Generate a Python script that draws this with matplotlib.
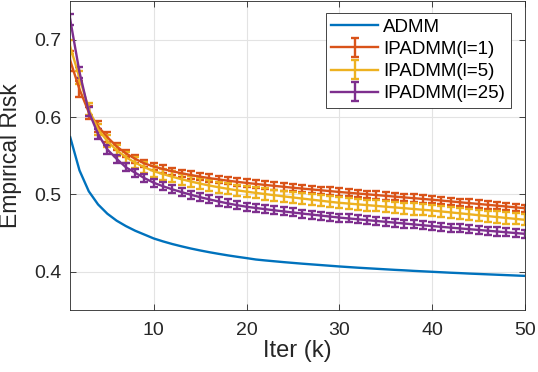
import matplotlib
matplotlib.use("Agg")
import matplotlib.pyplot as plt

plt.rcParams['font.family'] = ['Liberation Sans', 'DejaVu Sans']

iters = list(range(1, 51))

admm = [0.574, 0.531, 0.504, 0.487, 0.475, 0.466, 0.459, 0.453, 0.448, 0.443,
        0.4392, 0.4358, 0.4328, 0.4300, 0.4275, 0.4252, 0.4231, 0.4211, 0.4193, 0.4176,
        0.4158, 0.4146, 0.4135, 0.4124, 0.4114, 0.4104, 0.4095, 0.4086, 0.4077, 0.4068,
        0.4060, 0.4052, 0.4045, 0.4038, 0.4031, 0.4024, 0.4018, 0.4011, 0.4005, 0.3999,
        0.3993, 0.3987, 0.3982, 0.3976, 0.3971, 0.3966, 0.3961, 0.3956, 0.3951, 0.3946]

ipadmm_l1 = [0.673, 0.636, 0.606, 0.588, 0.574, 0.562, 0.553, 0.546, 0.540, 0.536,
             0.5328, 0.5299, 0.5273, 0.5250, 0.5229, 0.5210, 0.5193, 0.5177, 0.5162, 0.5148,
             0.5135, 0.5122, 0.5110, 0.5098, 0.5086, 0.5075, 0.5064, 0.5053, 0.5042, 0.5031,
             0.5021, 0.5011, 0.5001, 0.4991, 0.4981, 0.4971, 0.4961, 0.4951, 0.4941, 0.4931,
             0.4920, 0.4909, 0.4898, 0.4887, 0.4876, 0.4865, 0.4854, 0.4843, 0.4832, 0.4821]

ipadmm_l5 = [0.691, 0.651, 0.610, 0.584, 0.569, 0.557, 0.548, 0.541, 0.535, 0.530,
             0.5262, 0.5228, 0.5196, 0.5166, 0.5139, 0.5114, 0.5092, 0.5071, 0.5052, 0.5035,
             0.5019, 0.5004, 0.4989, 0.4974, 0.4960, 0.4946, 0.4932, 0.4918, 0.4904, 0.4891,
             0.4881, 0.4871, 0.4861, 0.4851, 0.4841, 0.4831, 0.4821, 0.4811, 0.4801, 0.4791,
             0.4779, 0.4767, 0.4755, 0.4743, 0.4731, 0.4719, 0.4707, 0.4695, 0.4683, 0.4671]

ipadmm_l25 = [0.726, 0.658, 0.607, 0.578, 0.558, 0.546, 0.535, 0.528, 0.521, 0.515,
              0.5105, 0.5065, 0.5029, 0.4995, 0.4964, 0.4935, 0.4908, 0.4883, 0.4860, 0.4840,
              0.4824, 0.4809, 0.4794, 0.4780, 0.4766, 0.4752, 0.4739, 0.4726, 0.4713, 0.4700,
              0.4689, 0.4678, 0.4667, 0.4656, 0.4645, 0.4634, 0.4623, 0.4612, 0.4601, 0.4590,
              0.4580, 0.4570, 0.4560, 0.4550, 0.4540, 0.4530, 0.4520, 0.4510, 0.4500, 0.4490]

err_l1 = [0.013, 0.010, 0.008, 0.007, 0.006] + [0.0048] * 45
err_l5 = [0.009, 0.008, 0.008, 0.0075, 0.0075] + [0.0072] * 45
err_l25 = [0.007, 0.007, 0.006, 0.006, 0.0055] + [0.0052] * 45

labels = ['ADMM', 'IPADMM(l=1)', 'IPADMM(l=5)', 'IPADMM(l=25)']
colors = ['#0072BD', '#D95319', '#EDB120', '#7E2F8E']
xticks = [10, 20, 30, 40, 50]
yticks = [0.4, 0.5, 0.6, 0.7]

fig = plt.figure(figsize=(5.38, 3.72), dpi=100)
ax = fig.add_axes([0.1305, 0.1656, 0.8453, 0.8317])

ax.plot(iters, admm, color=colors[0], lw=1.7, label=labels[0])
for vals, err, c, lab in zip([ipadmm_l1, ipadmm_l5, ipadmm_l25],
                             [err_l1, err_l5, err_l25], colors[1:], labels[1:]):
    ax.errorbar(iters, vals, yerr=err, color=c, lw=1.7, elinewidth=1.7,
                capsize=3, capthick=1.7, label=lab)

ax.set_xlim(1, 50)
ax.set_ylim(0.35, 0.75)
ax.set_xticks(xticks)
ax.set_yticks(yticks)
ax.set_yticklabels([f'{v:.1f}' for v in yticks])
ax.grid(True, color='#e3e3e3', lw=0.8)
ax.set_axisbelow(True)
ax.tick_params(direction='in', top=True, right=True, length=4, width=0.6,
               labelsize=14, colors='#262626')
ax.tick_params(axis='x', pad=8.5)
ax.tick_params(axis='y', pad=6.5)
for s in ax.spines.values():
    s.set_color('#262626')
    s.set_linewidth(0.6)
ax.set_xlabel('Iter (k)', fontsize=17, color='#262626', labelpad=0.5)
ax.set_ylabel('Empirical Risk', fontsize=16.5, color='#262626')
ax.yaxis.set_label_coords(-0.106, 0.5)

leg = ax.legend(loc='upper right', bbox_to_anchor=(0.969, 0.961), borderaxespad=0,
                fontsize=13.5, frameon=True, fancybox=False, framealpha=1,
                handlelength=2.5, handletextpad=0.27, labelspacing=0.27,
                borderpad=0.3)
leg.get_frame().set_edgecolor('#262626')
leg.get_frame().set_linewidth(0.6)

fig.savefig('out.png', dpi=100)
